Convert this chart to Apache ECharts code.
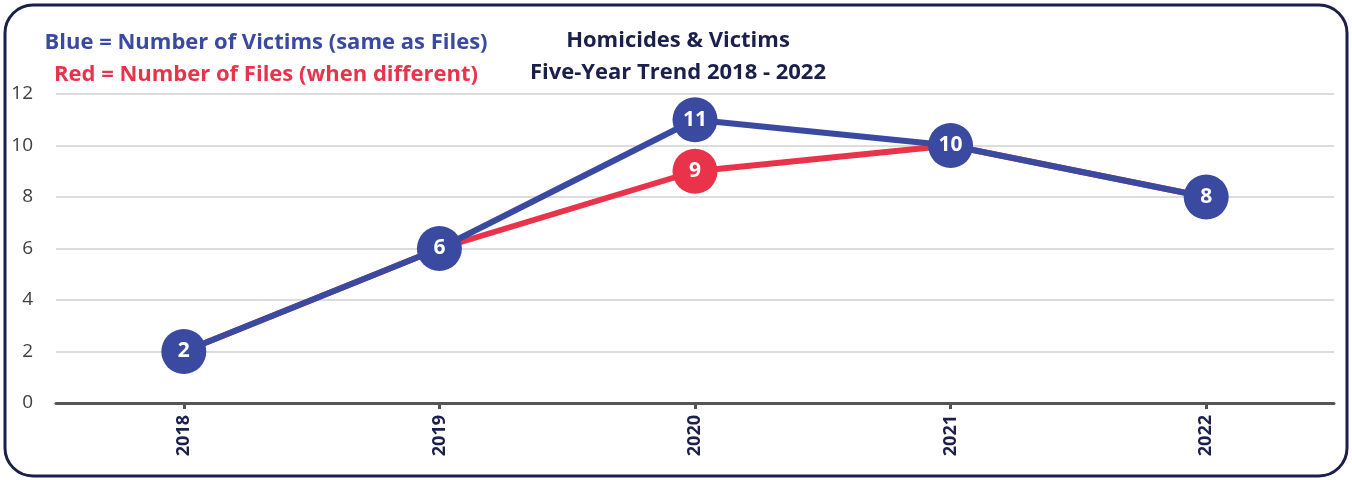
<!DOCTYPE html>
<html>
<head>
<meta charset="utf-8">
<script src="https://cdn.jsdelivr.net/npm/echarts@6/dist/echarts.min.js"></script>
<style>
  html, body { margin: 0; padding: 0; background: #fff; }
  #main { width: 1352px; height: 480px; }
</style>
</head>
<body>
<div id="main"></div>
<script>
var years = ['2018', '2019', '2020', '2021', '2022'];
var victims = [2, 6, 11, 10, 8];   // blue
var files = [2, 6, 9, 10, 8];      // red, shown only where it differs
var yTicks = [0, 2, 4, 6, 8, 10, 12];

var navy = '#1b1f4b';
var blue = '#3a4aa0';
var red = '#e8334a';
var font = '"Open Sans"';

var myChart = echarts.init(document.getElementById('main'));

function headText(txt, x, y, color) {
    return {
        type: 'text', x: x, y: y,
        style: { text: txt, fill: color, font: 'bold 22px ' + font,
                 align: 'center', verticalAlign: 'middle' }
    };
}

var option = {
    animation: false,
    grid: { left: 56, right: 18, top: 94, bottom: 77 },
    graphic: [
        { // rounded frame
            type: 'rect',
            shape: { x: 5, y: 5, width: 1342, height: 471, r: 28 },
            style: { fill: 'none', stroke: navy, lineWidth: 3 },
            z: 100
        },
        headText('Blue = Number of Victims (same as Files)', 266, 43, blue),
        headText('Red = Number of Files (when different)', 266, 75, red),
        headText('Homicides & Victims', 678, 41, navy),
        headText('Five-Year Trend 2018 - 2022', 678, 73, navy)
    ],
    xAxis: {
        type: 'category',
        data: years,
        boundaryGap: true,
        axisLine: { lineStyle: { color: '#555', width: 3 } },
        axisTick: { show: true, alignWithLabel: true, length: 6, lineStyle: { color: '#555', width: 3 } },
        axisLabel: {
            rotate: 90, color: navy, fontWeight: 'bold', fontSize: 18,
            fontFamily: font, margin: 12
        }
    },
    yAxis: {
        type: 'value',
        min: yTicks[0],
        max: yTicks[yTicks.length - 1],
        interval: 2,
        axisLine: { show: false },
        axisTick: { show: false },
        axisLabel: {
            color: '#404040', fontSize: 19, fontFamily: font,
            align: 'right', margin: 23
        },
        splitLine: { lineStyle: { color: '#d0d0d0', width: 1.5 } }
    },
    series: [
        {
            name: 'Files',
            type: 'line',
            data: files,
            symbol: 'circle',
            symbolSize: function (v, p) { return files[p.dataIndex] !== victims[p.dataIndex] ? 45 : 0; },
            itemStyle: { color: red },
            lineStyle: { color: red, width: 6 },
            label: {
                show: true, position: 'inside', color: '#fff', fontWeight: 'bold',
                fontSize: 21, fontFamily: font,
                formatter: function (p) { return files[p.dataIndex] !== victims[p.dataIndex] ? p.value : ''; }
            },
            z: 2
        },
        {
            name: 'Victims',
            type: 'line',
            data: victims,
            symbol: 'circle',
            symbolSize: 45,
            itemStyle: { color: blue },
            lineStyle: { color: blue, width: 6 },
            label: {
                show: true, position: 'inside', color: '#fff', fontWeight: 'bold',
                fontSize: 21, fontFamily: font
            },
            z: 3
        }
    ]
};
myChart.setOption(option);
</script>
</body>
</html>
